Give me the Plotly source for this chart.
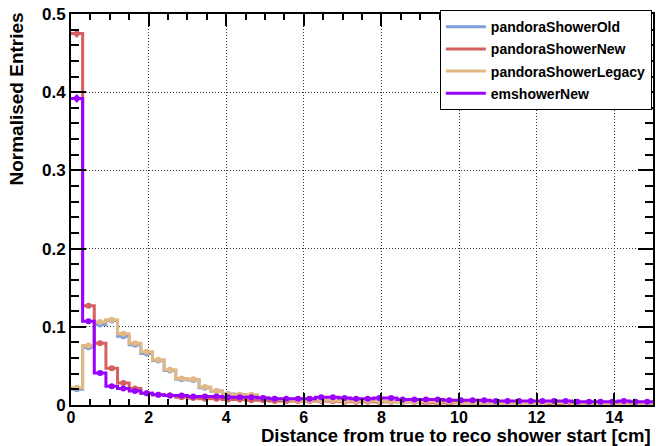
import plotly.graph_objects as go

# ---------------- data ----------------
bin_width = 0.3
n_bins = 50
edges = [round(bin_width * i, 4) for i in range(n_bins + 1)]
centers = [round(bin_width * (i + 0.5), 4) for i in range(n_bins)]

series_names = ["pandoraShowerOld", "pandoraShowerNew", "pandoraShowerLegacy", "emshowerNew"]

shower_old = [0.020, 0.074, 0.103, 0.108, 0.088, 0.077, 0.066, 0.057, 0.044, 0.033,
              0.032, 0.022, 0.018, 0.014, 0.013, 0.012, 0.009, 0.007, 0.007, 0.006,
              0.006, 0.006, 0.005, 0.005, 0.005, 0.005, 0.004, 0.004, 0.004, 0.004,
              0.004, 0.004, 0.003, 0.003, 0.003, 0.003, 0.003, 0.003, 0.003, 0.003,
              0.003, 0.002, 0.002, 0.002, 0.002, 0.002, 0.002, 0.002, 0.002, 0.002]

shower_new = [0.475, 0.127, 0.079, 0.047, 0.028, 0.021, 0.015, 0.013, 0.012, 0.010,
              0.009, 0.008, 0.008, 0.007, 0.007, 0.006, 0.006, 0.005, 0.005, 0.005,
              0.005, 0.005, 0.005, 0.004, 0.004, 0.004, 0.004, 0.004, 0.004, 0.004,
              0.003, 0.003, 0.003, 0.003, 0.003, 0.003, 0.003, 0.003, 0.003, 0.003,
              0.003, 0.002, 0.002, 0.002, 0.002, 0.002, 0.002, 0.002, 0.002, 0.002]

shower_legacy = [0.022, 0.076, 0.106, 0.109, 0.091, 0.079, 0.068, 0.058, 0.045, 0.034,
                 0.033, 0.023, 0.018, 0.014, 0.013, 0.013, 0.009, 0.008, 0.007, 0.006,
                 0.006, 0.006, 0.006, 0.005, 0.005, 0.005, 0.005, 0.004, 0.004, 0.004,
                 0.004, 0.004, 0.004, 0.003, 0.003, 0.003, 0.003, 0.003, 0.003, 0.003,
                 0.003, 0.003, 0.003, 0.002, 0.002, 0.002, 0.002, 0.002, 0.002, 0.002]

em_new = [0.392, 0.107, 0.041, 0.024, 0.021, 0.018, 0.015, 0.013, 0.012, 0.012,
          0.011, 0.011, 0.011, 0.010, 0.010, 0.010, 0.009, 0.008, 0.008, 0.008,
          0.008, 0.010, 0.010, 0.009, 0.008, 0.008, 0.009, 0.009, 0.007, 0.007,
          0.007, 0.007, 0.006, 0.006, 0.006, 0.006, 0.005, 0.005, 0.005, 0.005,
          0.005, 0.005, 0.005, 0.004, 0.004, 0.004, 0.004, 0.005, 0.004, 0.004]

err_old = [0.002, 0.003, 0.003, 0.003, 0.003, 0.002, 0.002, 0.002, 0.002, 0.002,
           0.002, 0.001, 0.001, 0.001, 0.001, 0.001, 0.001, 0.001, 0.001, 0.001,
           0.001, 0.001, 0.001, 0.001, 0.001, 0.001, 0.001, 0.001, 0.001, 0.001,
           0.001, 0.001, 0.001, 0.001, 0.001, 0.001, 0.001, 0.001, 0.001, 0.001,
           0.001, 0.001, 0.001, 0.001, 0.001, 0.001, 0.001, 0.001, 0.001, 0.001]
err_new = [0.005, 0.003, 0.003, 0.002, 0.002, 0.002, 0.001, 0.001, 0.001, 0.001,
           0.001, 0.001, 0.001, 0.001, 0.001, 0.001, 0.001, 0.001, 0.001, 0.001,
           0.001, 0.001, 0.001, 0.001, 0.001, 0.001, 0.001, 0.001, 0.001, 0.001,
           0.001, 0.001, 0.001, 0.001, 0.001, 0.001, 0.001, 0.001, 0.001, 0.001,
           0.001, 0.001, 0.001, 0.001, 0.001, 0.001, 0.001, 0.001, 0.001, 0.001]
err_legacy = err_old
err_em = [0.005, 0.003, 0.002, 0.002, 0.001, 0.001, 0.001, 0.001, 0.001, 0.001,
          0.001, 0.001, 0.001, 0.001, 0.001, 0.001, 0.001, 0.001, 0.001, 0.001,
          0.001, 0.001, 0.001, 0.001, 0.001, 0.001, 0.001, 0.001, 0.001, 0.001,
          0.001, 0.001, 0.001, 0.001, 0.001, 0.001, 0.001, 0.001, 0.001, 0.001,
          0.001, 0.001, 0.001, 0.001, 0.001, 0.001, 0.001, 0.001, 0.001, 0.001]

x_ticks = [0, 2, 4, 6, 8, 10, 12, 14]
y_ticks = [0, 0.1, 0.2, 0.3, 0.4, 0.5]

colors = ["#7f9fdb", "#d65f5f", "#e2b984", "#9900ff"]
values = [shower_old, shower_new, shower_legacy, em_new]
errors = [err_old, err_new, err_legacy, err_em]

FONT = "Liberation Sans"

fig = go.Figure()
for name, vals, errs, col in zip(series_names, values, errors, colors):
    fig.add_trace(go.Scatter(
        x=edges, y=vals + [vals[-1]], mode="lines", line=dict(color=col, width=3, shape="hv"),
        name=name, legendgroup=name, showlegend=True,
    ))
    fig.add_trace(go.Scatter(
        x=centers, y=vals, mode="markers", marker=dict(size=0, color=col),
        error_y=dict(type="data", array=errs, color=col, thickness=2.5, width=0),
        legendgroup=name, showlegend=False, hoverinfo="skip",
    ))

axis_common = dict(
    showline=True, linecolor="black", linewidth=2, mirror="allticks",
    ticks="inside", tickcolor="black", tickwidth=1.5,
    showgrid=True, gridcolor="#333333", gridwidth=1, griddash="1px,2px",
    zeroline=False,
)

fig.update_xaxes(range=[0, 15], tickvals=x_ticks, ticklen=12, ticklabelstandoff=-3,
                 tickfont=dict(family=FONT, size=16, color="black", weight="bold"),
                 minor=dict(dtick=0.5, ticks="inside", ticklen=6, tickcolor="black", showgrid=False),
                 **axis_common)
fig.update_yaxes(range=[0, 0.5], tickvals=y_ticks, ticktext=["0", "0.1", "0.2", "0.3", "0.4", "0.5"],
                 ticklen=15,
                 tickfont=dict(family=FONT, size=17, color="black", weight="bold"),
                 minor=dict(dtick=0.02, ticks="inside", ticklen=8, tickcolor="black", showgrid=False),
                 **axis_common)

fig.add_annotation(text="Distance from true to reco shower start [cm]", xref="paper", yref="paper",
                   x=1, y=0, xanchor="right", yanchor="bottom", yshift=-43, showarrow=False,
                   font=dict(family=FONT, size=18.5, color="black", weight="bold"))
fig.add_annotation(text="Normalised Entries", xref="paper", yref="paper", textangle=-90,
                   x=0, y=1, xanchor="center", yanchor="top", xshift=-55, yshift=3, showarrow=False,
                   font=dict(family=FONT, size=19, color="black", weight="bold"))

fig.update_layout(
    width=656, height=446,
    margin=dict(l=71, r=1, t=14, b=41),
    paper_bgcolor="white", plot_bgcolor="white",
    showlegend=True,
    legend=dict(x=0.998, xanchor="right", y=1.01, yanchor="top", bgcolor="white",
                bordercolor="black", borderwidth=1, tracegroupgap=1, itemwidth=40,
                font=dict(family=FONT, size=14, color="black", weight="bold")),
)

fig.write_html("out.html")
